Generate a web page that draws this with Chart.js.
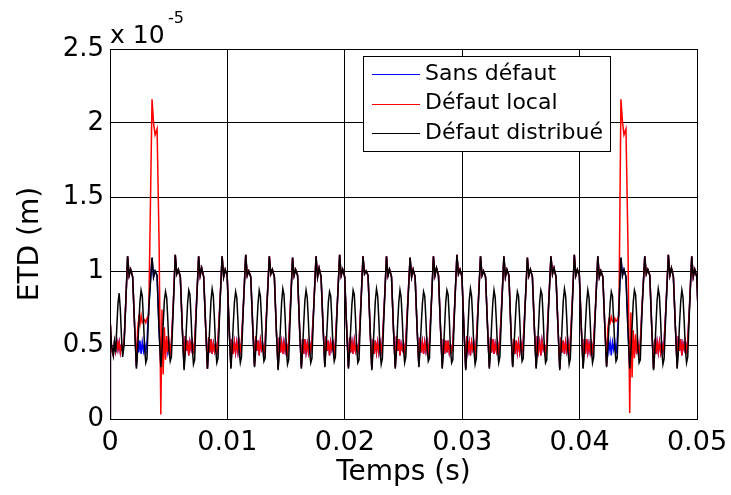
<!DOCTYPE html>
<html>
<head>
<meta charset="utf-8">
<script src="https://cdn.jsdelivr.net/npm/chart.js@4"></script>
<style>
  body { margin: 0; background: #fff; }
  #wrap { width: 731px; height: 495px; }
</style>
</head>
<body>
<div id="wrap"><canvas id="etdChart" width="731" height="495"></canvas></div>
<script>
// Series names (legend order)
const seriesNames = ['Sans défaut', 'Défaut local', 'Défaut distribué']

// Axis ticks
const xTicks = [0, 0.01, 0.02, 0.03, 0.04, 0.05]
const yTicks = [0, 0.5, 1, 1.5, 2, 2.5]

// Start of the record, before the first mesh peak (times in ms, ETD in 1e-5 m)
const startTimesMs = [0, 0.03, 0.12, 0.2, 0.28, 0.38, 0.48, 0.58, 0.68, 0.78, 0.88, 0.98, 1.08, 1.2, 1.35]
const startBlack   = [0, 0.64, 0.50, 0.47, 0.43, 0.52, 0.45, 0.62, 0.78, 0.85, 0.74, 0.55, 0.42, 0.50, 0.80]
const startHealthy = [0, 0.64, 0.50, 0.45, 0.43, 0.52, 0.46, 0.53, 0.47, 0.52, 0.45, 0.50, 0.46, 0.52, 0.80]

// Times of the mesh peaks (ms)
const peakTimesMs = [1.50, 3.58, 5.56, 7.55, 9.55, 11.56, 13.57, 15.55, 17.55, 19.56, 21.55, 23.55, 25.56,
  27.55, 29.55, 31.56, 33.55, 35.55, 37.56, 39.55, 41.55, 43.52, 45.55, 47.56, 49.55]

// Sample times inside one mesh period, measured from its peak (ms)
const periodOffsetsMs = [0, 0.13, 0.26, 0.43, 0.6, 0.75, 0.85, 0.95, 1.05, 1.15, 1.25, 1.35, 1.45, 1.55, 1.65, 1.8]

// Défaut distribué: one row per mesh period
const blackRows = [
  [1.10,0.97,1.01,0.96,0.62,0.34,0.46,0.63,0.79,0.87,0.83,0.67,0.47,0.38,0.41,0.74],
  [1.09,0.96,1.00,0.97,0.60,0.35,0.47,0.64,0.80,0.86,0.82,0.66,0.46,0.39,0.42,0.73],
  [1.11,0.98,1.01,0.96,0.61,0.33,0.45,0.62,0.78,0.87,0.84,0.68,0.48,0.37,0.40,0.75],
  [1.10,0.97,1.02,0.96,0.62,0.34,0.46,0.63,0.80,0.88,0.83,0.67,0.47,0.38,0.41,0.74],
  [1.10,0.96,1.01,0.97,0.61,0.34,0.47,0.64,0.79,0.86,0.82,0.66,0.46,0.38,0.42,0.74],
  [1.11,0.97,1.00,0.96,0.62,0.35,0.46,0.63,0.78,0.87,0.83,0.67,0.48,0.39,0.41,0.75],
  [1.10,0.98,1.01,0.96,0.60,0.33,0.45,0.62,0.79,0.88,0.84,0.68,0.47,0.37,0.40,0.73],
  [1.09,0.97,1.01,0.97,0.61,0.34,0.46,0.64,0.80,0.87,0.82,0.66,0.46,0.38,0.41,0.74],
  [1.10,0.96,1.02,0.96,0.62,0.35,0.47,0.63,0.79,0.86,0.83,0.67,0.47,0.39,0.42,0.75],
  [1.11,0.97,1.01,0.96,0.61,0.34,0.46,0.62,0.78,0.87,0.84,0.68,0.48,0.38,0.40,0.74],
  [1.10,0.98,1.00,0.97,0.62,0.33,0.45,0.63,0.80,0.88,0.83,0.67,0.46,0.37,0.41,0.73],
  [1.10,0.97,1.01,0.96,0.60,0.34,0.46,0.64,0.79,0.87,0.82,0.66,0.47,0.38,0.42,0.74],
  [1.09,0.96,1.01,0.96,0.61,0.35,0.47,0.63,0.78,0.86,0.83,0.67,0.48,0.39,0.41,0.75],
  [1.10,0.97,1.02,0.97,0.62,0.34,0.46,0.62,0.79,0.87,0.84,0.68,0.47,0.38,0.40,0.74],
  [1.11,0.98,1.01,0.96,0.61,0.33,0.45,0.63,0.80,0.88,0.83,0.67,0.46,0.37,0.41,0.73],
  [1.10,0.97,1.00,0.96,0.62,0.34,0.46,0.64,0.79,0.87,0.82,0.66,0.47,0.38,0.42,0.74],
  [1.10,0.96,1.01,0.97,0.60,0.35,0.47,0.63,0.78,0.86,0.83,0.67,0.48,0.39,0.41,0.75],
  [1.09,0.97,1.01,0.96,0.61,0.34,0.46,0.62,0.79,0.87,0.84,0.68,0.47,0.38,0.40,0.74],
  [1.10,0.98,1.02,0.96,0.62,0.33,0.45,0.63,0.80,0.88,0.83,0.67,0.46,0.37,0.41,0.73],
  [1.11,0.97,1.01,0.97,0.61,0.34,0.46,0.64,0.79,0.87,0.82,0.66,0.47,0.38,0.42,0.74],
  [1.10,0.96,1.00,0.96,0.62,0.35,0.47,0.63,0.78,0.86,0.83,0.67,0.48,0.39,0.41,0.75],
  [1.09,0.97,1.01,0.96,0.60,0.34,0.46,0.62,0.79,0.87,0.84,0.68,0.47,0.38,0.40,0.74],
  [1.10,0.98,1.01,0.97,0.61,0.33,0.45,0.63,0.80,0.88,0.83,0.67,0.46,0.37,0.41,0.73],
  [1.11,0.97,1.02,0.96,0.62,0.34,0.46,0.64,0.79,0.87,0.82,0.66,0.47,0.38,0.42,0.74],
  [1.10,0.96,1.01,0.96,0.61,0.35,0.47,0.63,0.78,0.86,0.83,0.67,0.48,0.39,0.41,0.75]
]

// Sans défaut: one row per mesh period
const blueRows = [
  [1.10,0.97,1.01,0.96,0.62,0.35,0.55,0.45,0.53,0.44,0.52,0.46,0.51,0.45,0.52,0.76],
  [1.09,0.96,1.00,0.97,0.60,0.36,0.54,0.44,0.52,0.45,0.53,0.45,0.50,0.46,0.51,0.75],
  [1.11,0.98,1.01,0.96,0.61,0.35,0.56,0.46,0.53,0.43,0.52,0.47,0.52,0.44,0.52,0.77],
  [1.10,0.97,1.02,0.96,0.62,0.34,0.55,0.45,0.54,0.44,0.51,0.46,0.51,0.45,0.53,0.76],
  [1.10,0.96,1.01,0.97,0.61,0.35,0.54,0.44,0.52,0.45,0.52,0.45,0.52,0.46,0.52,0.75],
  [1.11,0.97,1.00,0.96,0.62,0.36,0.56,0.46,0.53,0.43,0.53,0.47,0.50,0.44,0.51,0.76],
  [1.10,0.98,1.01,0.96,0.60,0.34,0.55,0.45,0.52,0.44,0.52,0.46,0.51,0.45,0.52,0.77],
  [1.09,0.97,1.01,0.97,0.61,0.35,0.54,0.44,0.54,0.45,0.51,0.45,0.52,0.46,0.53,0.75],
  [1.10,0.96,1.02,0.96,0.62,0.36,0.56,0.46,0.53,0.43,0.52,0.47,0.51,0.44,0.52,0.76],
  [1.11,0.97,1.01,0.96,0.61,0.35,0.55,0.45,0.52,0.44,0.53,0.46,0.50,0.45,0.51,0.76],
  [1.10,0.98,1.00,0.97,0.62,0.34,0.54,0.44,0.53,0.45,0.52,0.45,0.52,0.46,0.52,0.75],
  [1.10,0.97,1.01,0.96,0.60,0.35,0.56,0.46,0.54,0.43,0.51,0.47,0.51,0.44,0.53,0.77],
  [1.09,0.96,1.01,0.96,0.61,0.36,0.55,0.45,0.52,0.44,0.52,0.46,0.52,0.45,0.52,0.76],
  [1.10,0.97,1.02,0.97,0.62,0.35,0.54,0.44,0.53,0.45,0.53,0.45,0.50,0.46,0.51,0.75],
  [1.11,0.98,1.01,0.96,0.61,0.34,0.56,0.46,0.52,0.43,0.52,0.47,0.51,0.44,0.52,0.76],
  [1.10,0.97,1.00,0.96,0.62,0.35,0.55,0.45,0.54,0.44,0.51,0.46,0.52,0.45,0.53,0.77],
  [1.10,0.96,1.01,0.97,0.60,0.36,0.54,0.44,0.53,0.45,0.52,0.45,0.51,0.46,0.52,0.75],
  [1.09,0.97,1.01,0.96,0.61,0.35,0.56,0.46,0.52,0.43,0.53,0.47,0.50,0.44,0.51,0.76],
  [1.10,0.98,1.02,0.96,0.62,0.34,0.55,0.45,0.53,0.44,0.52,0.46,0.52,0.45,0.52,0.76],
  [1.11,0.97,1.01,0.97,0.61,0.35,0.54,0.44,0.54,0.45,0.51,0.45,0.51,0.46,0.53,0.75],
  [1.10,0.96,1.00,0.96,0.62,0.36,0.56,0.46,0.52,0.43,0.52,0.47,0.52,0.44,0.52,0.77],
  [1.09,0.97,1.01,0.96,0.60,0.35,0.55,0.45,0.53,0.44,0.53,0.46,0.50,0.45,0.51,0.76],
  [1.10,0.98,1.01,0.97,0.61,0.34,0.54,0.44,0.52,0.45,0.52,0.45,0.51,0.46,0.52,0.75],
  [1.11,0.97,1.02,0.96,0.62,0.35,0.56,0.46,0.54,0.43,0.51,0.47,0.52,0.44,0.53,0.76],
  [1.10,0.96,1.01,0.96,0.61,0.36,0.55,0.45,0.53,0.44,0.52,0.46,0.51,0.45,0.52,0.77]
]

// Défaut local: same as Sans défaut except around the two tooth impacts
const redRows = [
  [1.10,0.97,1.01,0.96,0.62,0.36,0.60,0.68,0.64,0.70,0.65,0.66,0.67,0.65,0.68,0.70],
  [2.16,2.00,1.92,1.96,1.20,0.03,0.74,0.30,0.62,0.40,0.56,0.45,0.52,0.45,0.52,0.76],
  [1.11,0.98,1.01,0.96,0.61,0.35,0.56,0.46,0.53,0.43,0.52,0.47,0.52,0.44,0.52,0.77],
  [1.10,0.97,1.02,0.96,0.62,0.34,0.55,0.45,0.54,0.44,0.51,0.46,0.51,0.45,0.53,0.76],
  [1.10,0.96,1.01,0.97,0.61,0.35,0.54,0.44,0.52,0.45,0.52,0.45,0.52,0.46,0.52,0.75],
  [1.11,0.97,1.00,0.96,0.62,0.36,0.56,0.46,0.53,0.43,0.53,0.47,0.50,0.44,0.51,0.76],
  [1.10,0.98,1.01,0.96,0.60,0.34,0.55,0.45,0.52,0.44,0.52,0.46,0.51,0.45,0.52,0.77],
  [1.09,0.97,1.01,0.97,0.61,0.35,0.54,0.44,0.54,0.45,0.51,0.45,0.52,0.46,0.53,0.75],
  [1.10,0.96,1.02,0.96,0.62,0.36,0.56,0.46,0.53,0.43,0.52,0.47,0.51,0.44,0.52,0.76],
  [1.11,0.97,1.01,0.96,0.61,0.35,0.55,0.45,0.52,0.44,0.53,0.46,0.50,0.45,0.51,0.76],
  [1.10,0.98,1.00,0.97,0.62,0.34,0.54,0.44,0.53,0.45,0.52,0.45,0.52,0.46,0.52,0.75],
  [1.10,0.97,1.01,0.96,0.60,0.35,0.56,0.46,0.54,0.43,0.51,0.47,0.51,0.44,0.53,0.77],
  [1.09,0.96,1.01,0.96,0.61,0.36,0.55,0.45,0.52,0.44,0.52,0.46,0.52,0.45,0.52,0.76],
  [1.10,0.97,1.02,0.97,0.62,0.35,0.54,0.44,0.53,0.45,0.53,0.45,0.50,0.46,0.51,0.75],
  [1.11,0.98,1.01,0.96,0.61,0.34,0.56,0.46,0.52,0.43,0.52,0.47,0.51,0.44,0.52,0.76],
  [1.10,0.97,1.00,0.96,0.62,0.35,0.55,0.45,0.54,0.44,0.51,0.46,0.52,0.45,0.53,0.77],
  [1.10,0.96,1.01,0.97,0.60,0.36,0.54,0.44,0.53,0.45,0.52,0.45,0.51,0.46,0.52,0.75],
  [1.09,0.97,1.01,0.96,0.61,0.35,0.56,0.46,0.52,0.43,0.53,0.47,0.50,0.44,0.51,0.76],
  [1.10,0.98,1.02,0.96,0.62,0.34,0.55,0.45,0.53,0.44,0.52,0.46,0.52,0.45,0.52,0.76],
  [1.11,0.97,1.01,0.97,0.61,0.35,0.54,0.44,0.54,0.45,0.51,0.45,0.51,0.46,0.53,0.75],
  [1.10,0.96,1.00,0.96,0.62,0.36,0.61,0.67,0.65,0.69,0.66,0.65,0.68,0.66,0.67,0.70],
  [2.16,2.01,1.92,1.96,1.18,0.04,0.72,0.28,0.60,0.41,0.57,0.44,0.51,0.45,0.51,0.76],
  [1.10,0.98,1.01,0.97,0.61,0.34,0.54,0.44,0.52,0.45,0.52,0.45,0.51,0.46,0.52,0.75],
  [1.11,0.97,1.02,0.96,0.62,0.35,0.56,0.46,0.54,0.43,0.51,0.47,0.52,0.44,0.53,0.76],
  [1.10,0.96,1.01,0.96,0.61,0.36,0.55,0.45,0.53,0.44,0.52,0.46,0.51,0.45,0.52,0.77]
]

// Turn the start values and the period rows into {x (s), y} points
function buildPoints(startValues, rows) {
  const pts = startTimesMs.map((t, i) => ({ x: t / 1000, y: startValues[i] }))
  peakTimesMs.forEach((peak, k) => {
    periodOffsetsMs.forEach((off, j) => {
      pts.push({ x: (peak + off) / 1000, y: rows[k][j] })
    })
  })
  return pts
}

const FONT = "'DejaVu Sans', 'Liberation Sans', Arial, sans-serif"
const colors = ['#0000ff', '#ff0000', '#000000']

// MATLAB-like legend box inside the axes, the "x 10^-5" multiplier and the y title
const overlayPlugin = {
  id: 'overlay',
  afterDraw(chart) {
    const { ctx, chartArea } = chart
    ctx.save()
    ctx.fillStyle = '#000'

    // y axis title, rotated
    ctx.save()
    ctx.translate(31, 244)
    ctx.rotate(-Math.PI / 2)
    ctx.font = '28px ' + FONT
    ctx.textAlign = 'center'
    ctx.textBaseline = 'middle'
    ctx.fillText('ETD (m)', 0, 0)
    ctx.restore()

    // exponent label above the y axis
    ctx.textBaseline = 'alphabetic'
    ctx.textAlign = 'left'
    ctx.font = '25px ' + FONT
    ctx.fillText('x 10', chartArea.left, chartArea.top - 6)
    ctx.font = '16px ' + FONT
    ctx.fillText('-5', chartArea.left + 58, chartArea.top - 26)

    // legend
    const bx = 363, by = 56, bw = 247, bh = 95
    ctx.fillStyle = '#fff'
    ctx.fillRect(bx, by, bw, bh)
    ctx.strokeStyle = '#000'
    ctx.lineWidth = 1
    ctx.strokeRect(bx + 0.5, by + 0.5, bw, bh)
    ctx.font = '22px ' + FONT
    ctx.textBaseline = 'middle'
    seriesNames.forEach((name, i) => {
      const y = by + 18 + i * 29.5
      ctx.strokeStyle = colors[i]
      ctx.beginPath()
      ctx.moveTo(bx + 9, Math.round(y) + 0.5)
      ctx.lineTo(bx + 57, Math.round(y) + 0.5)
      ctx.stroke()
      ctx.fillStyle = '#000'
      ctx.fillText(name, bx + 62, y)
    })
    ctx.restore()
  }
}

const datasets = [
  { label: seriesNames[0], data: buildPoints(startHealthy, blueRows), borderColor: colors[0], order: 3 },
  { label: seriesNames[1], data: buildPoints(startHealthy, redRows), borderColor: colors[1], order: 2 },
  { label: seriesNames[2], data: buildPoints(startBlack, blackRows), borderColor: colors[2], order: 1 }
].map(d => Object.assign(d, { borderWidth: 1.5, pointRadius: 0, tension: 0, fill: false }))

new Chart(document.getElementById('etdChart'), {
  type: 'line',
  data: { datasets },
  plugins: [overlayPlugin],
  options: {
    responsive: false,
    animation: false,
    devicePixelRatio: 1,
    layout: { padding: { left: 0, top: 49, right: 34, bottom: 0 } },
    plugins: { legend: { display: false }, tooltip: { enabled: false } },
    scales: {
      x: {
        type: 'linear',
        min: xTicks[0],
        max: xTicks[xTicks.length - 1],
        afterBuildTicks: scale => { scale.ticks = xTicks.map(v => ({ value: v })) },
        afterFit: scale => {
          scale.height = 76
          // let the last tick label run into the right margin, as in the original
          scale.paddingLeft = 0
          scale.paddingRight = 0
        },
        ticks: {
          color: '#000',
          padding: 8,
          font: { family: FONT, size: 27 },
          callback: v => String(Number(v.toFixed(2)))
        },
        grid: { color: '#000', lineWidth: 1, drawTicks: false },
        border: { color: '#000', width: 1 },
        title: {
          display: true,
          text: 'Temps (s)',
          color: '#000',
          font: { family: FONT, size: 28 },
          padding: { top: 0, bottom: 5 }
        }
      },
      y: {
        min: yTicks[0],
        max: yTicks[yTicks.length - 1],
        afterBuildTicks: scale => { scale.ticks = yTicks.map(v => ({ value: v })) },
        afterFit: scale => { scale.width = 110 },
        ticks: {
          color: '#000',
          padding: 6,
          font: { family: FONT, size: 26 },
          callback: v => String(v)
        },
        grid: { color: '#000', lineWidth: 1, drawTicks: false },
        border: { color: '#000', width: 1 }
      }
    }
  }
})
</script>
</body>
</html>
